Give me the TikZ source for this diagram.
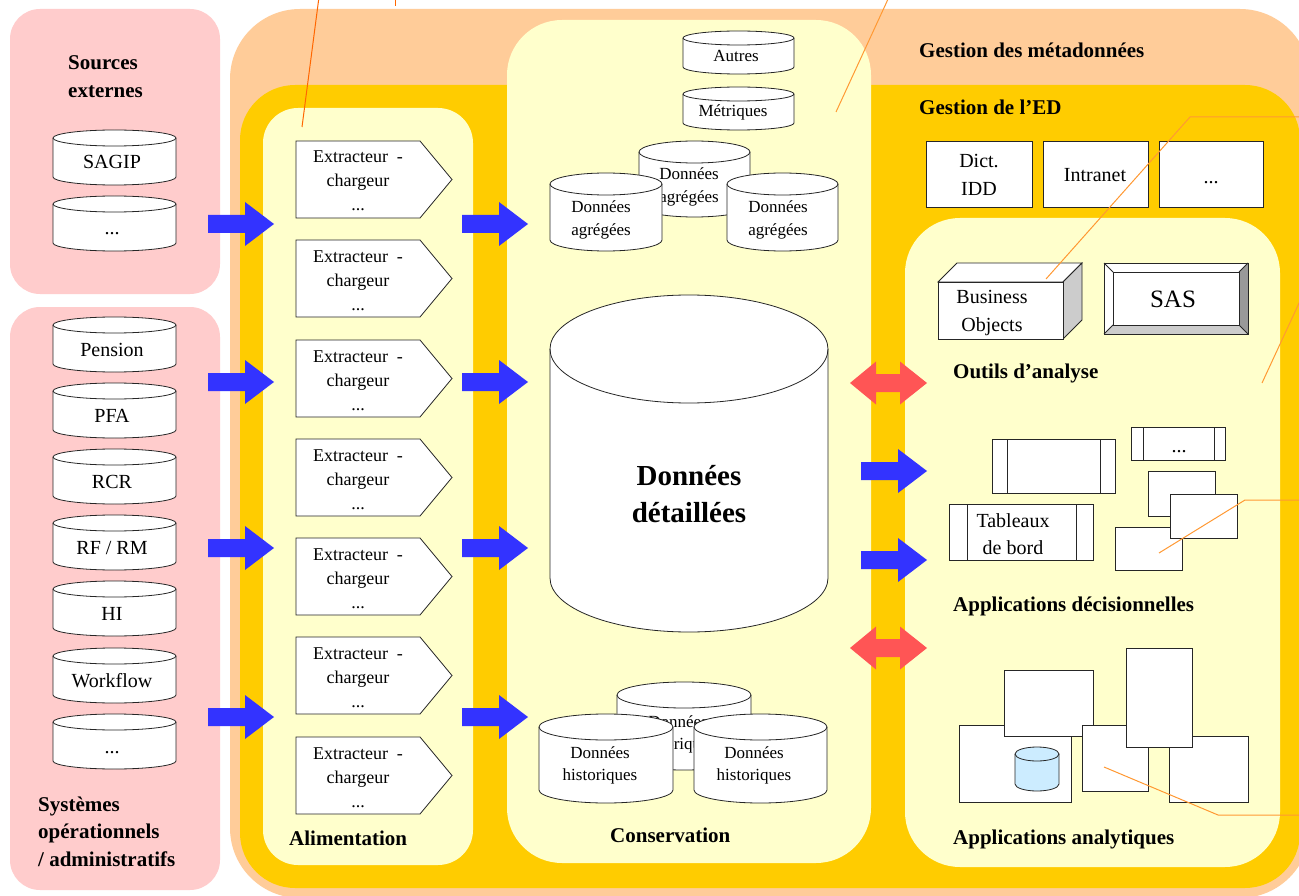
\documentclass[tikz,border=0pt]{standalone}
\usepackage{fontspec}
\setmainfont{Liberation Serif}
\definecolor{pinkbg}{HTML}{FFCCCC}
\definecolor{peach}{HTML}{FFCC99}
\definecolor{gold}{HTML}{FFCC00}
\definecolor{cream}{HTML}{FFFFCC}
\definecolor{arrowblue}{HTML}{3333FF}
\definecolor{arrowred}{HTML}{FF5555}
\definecolor{grayC}{HTML}{CCCCCC}
\definecolor{gray9}{HTML}{999999}
\definecolor{cylblue}{HTML}{CCECFF}
\definecolor{calloutc}{HTML}{FF9933}
\definecolor{calloutd}{HTML}{FF6600}
\newcommand{\threedots}{...}
\tikzset{
  ttl/.style={font=\fontsize{21}{27.5}\selectfont\bfseries, inner sep=0pt, align=left, anchor=base west},
  lbl/.style={font=\fontsize{20}{28}\selectfont, inner sep=0pt, align=center, anchor=base},
  sml/.style={font=\fontsize{17}{22.5}\selectfont, inner sep=0pt, align=center, anchor=base},
  ext/.style={font=\fontsize{18}{24}\selectfont, inner sep=0pt, align=center, anchor=base},
  big/.style={font=\fontsize{29}{37}\selectfont\bfseries, inner sep=0pt, align=center, anchor=base},
  obj/.style={draw=black!85, line width=0.8pt, fill=white},
  objline/.style={draw=black!85, line width=0.8pt},
  bluearrow/.style={fill=arrowblue},
  redarrow/.style={fill=arrowred},
  callout/.style={draw=calloutc, line width=1pt},
  calloutdark/.style={draw=calloutd, line width=1pt},
}
\newcommand{\dbcyl}[6][white]{%
  \pgfmathsetmacro\dbrx{(#4-#2)/2}%
  \pgfmathsetmacro\dbyt{#3+#6}%
  \pgfmathsetmacro\dbyb{#5-#6}%
  \draw[obj, fill=#1] (#2,\dbyt) -- (#2,\dbyb) arc[start angle=180,end angle=0,x radius=\dbrx,y radius=#6]
     -- (#4,\dbyt) arc[start angle=0,end angle=-180,x radius=\dbrx,y radius=#6] -- cycle;
  \draw[objline] (#2,\dbyt) arc[start angle=180,end angle=0,x radius=\dbrx,y radius=#6];
}
\newcommand{\blarrow}[2]{%
  \fill[bluearrow, shift={(#1,#2)}] (0,-9) -- (37,-9) -- (37,-22) -- (66,0) -- (37,22) -- (37,9) -- (0,9) -- cycle;
}
\newcommand{\rdarrow}[2]{%
  \fill[redarrow, shift={(#1,#2)}] (-38.5,0) -- (-12.5,-21.5) -- (-12.5,-9) -- (11.5,-9) -- (11.5,-21.5) -- (38.5,0)
     -- (11.5,21.5) -- (11.5,9) -- (-12.5,9) -- (-12.5,21.5) -- cycle;
}
\newcommand{\sbrect}[6]{%
  \draw[obj] (#1,#2) rectangle (#3,#4);
  \draw[objline] (#5,#2) -- (#5,#4) (#6,#2) -- (#6,#4);
}
\begin{document}
\begin{tikzpicture}[x=1pt,y=-1pt]
\clip (0,0) rectangle (1299,896);
\fill[white] (0,0) rectangle (1299,896);
% regions
\fill[peach, rounded corners=70pt] (230,9) rectangle (1310,898);
\fill[gold, rounded corners=55pt] (240,85) rectangle (1300,888);
\fill[cream, rounded corners=35pt] (263,108) rectangle (473,865);
\fill[cream, rounded corners=55pt] (507,20) rectangle (871,863);
\fill[cream, rounded corners=55pt] (905,218) rectangle (1280,867);
\fill[pinkbg, rounded corners=30pt] (10,9) rectangle (220,294);
\fill[pinkbg, rounded corners=30pt] (10,307) rectangle (220,890);

% titles (base anchor = baseline of last line)
\node[ttl] (srcext) at (68,97.5) {Sources\\externes};
\node[ttl] (sysop) at (38,866) {Systèmes\\opérationnels\\/ administratifs};
\node[ttl] (gmeta) at (919,58) {Gestion des métadonnées};
\node[ttl] (ged) at (919,115) {Gestion de l’ED};
\node[ttl] (alim) at (289,845) {Alimentation};
\node[ttl] (cons) at (610,842) {Conservation};
\node[ttl] (outils) at (953,378) {Outils d’analyse};
\node[ttl] (appdec) at (953,611) {Applications décisionnelles};
\node[ttl] (appana) at (953,844) {Applications analytiques};

% external sources
\dbcyl{53}{130}{176}{185}{8}
\node[lbl] (sagip) at (112,169) {SAGIP};
\dbcyl{53}{196}{176}{251}{8}
\node[lbl] (extetc) at (112,235) {\threedots};

% operational systems
\foreach \t/\lab [count=\i] in {317/Pension,383/PFA,449/RCR,515/{RF / RM},581/HI,648/Workflow,714/\threedots} {
  \dbcyl{53}{\t}{176}{\t+55}{8}
  \node[lbl] (op\i) at (112,\t+39) {\lab};
}

% extractors
\foreach \t [count=\i] in {141,240,340,439,538,637,737} {
  \draw[obj] (296,\t) -- (420,\t) -- (452,\t+38.5) -- (420,\t+77) -- (296,\t+77) -- cycle;
  \node[ext] (ext\i) at (358,\t+70) {Extracteur~~-\\chargeur\\\threedots};
}

% blue arrows
\foreach \y in {224,382,548,717} {
  \blarrow{208}{\y}
  \blarrow{462}{\y}
}
\blarrow{861}{471}
\blarrow{861}{560}
\rdarrow{888.5}{383}
\rdarrow{888.5}{648}

% conservation
\dbcyl{683}{31}{794}{74}{7}
\node[sml] (autres) at (736,62) {Autres};
\dbcyl{683}{87}{794}{130}{7}
\node[sml] (metr) at (733,117) {Métriques};
\dbcyl{639}{141}{750}{217}{11}
\node[sml] (agg2) at (689,202.5) {Données\\agrégées};
\dbcyl{550}{173}{662}{251}{11}
\node[sml] (agg1) at (601,235.5) {Données\\agrégées};
\dbcyl{727}{173}{838}{251}{11}
\node[sml] (agg3) at (778,235.5) {Données\\agrégées};
\dbcyl{550}{295}{828}{632}{54}
\node[big] (detail) at (689,522) {Données\\détaillées};
\dbcyl{617}{682}{751}{770}{13}
\node[sml] (hist2) at (678,749.5) {Données\\historiques};
\dbcyl{539}{714}{673}{803}{13}
\node[sml] (hist1) at (600,780.5) {Données\\historiques};
\dbcyl{694}{714}{827}{803}{13}
\node[sml] (hist3) at (754,780.5) {Données\\historiques};

% management tools
\draw[obj] (926,141) rectangle (1032,207);
\node[lbl] (dict) at (979,196) {Dict.\\IDD};
\draw[obj] (1043,141) rectangle (1148,207);
\node[lbl] (intranet) at (1095,182) {Intranet};
\draw[obj] (1159,141) rectangle (1263,207);
\node[lbl] (mgmtetc) at (1211,184) {\threedots};

% Business Objects
\draw[obj] (938,282) -- (957,263) -- (1082,263) -- (1063,282) -- cycle;
\draw[obj, fill=grayC] (1063,282) -- (1082,263) -- (1082,320) -- (1063,339) -- cycle;
\draw[obj] (938,282) rectangle (1063,339);
\node[lbl] (bo) at (992,331) {Business\\Objects};

% SAS
\fill[white] (1104,263) rectangle (1248,334);
\fill[gray9] (1248,263) -- (1248,334) -- (1239,325) -- (1239,272) -- cycle;
\fill[grayC] (1104,334) -- (1248,334) -- (1239,325) -- (1113,325) -- cycle;
\draw[objline] (1104,263) rectangle (1248,334);
\draw[objline] (1113,272) rectangle (1239,325);
\draw[objline] (1104,263) -- (1113,272) (1248,263) -- (1239,272) (1248,334) -- (1239,325) (1104,334) -- (1113,325);
\node[font=\fontsize{25}{30}\selectfont, inner sep=0pt, anchor=base] (sas) at (1173,308) {SAS};

% decision applications
\sbrect{992}{439}{1115}{493}{1007}{1100}
\sbrect{1131}{427}{1225}{460}{1143}{1214}
\node[lbl] (decetc) at (1179,452) {\threedots};
\sbrect{949}{504}{1093}{560}{967}{1076}
\node[lbl, font=\fontsize{20}{27}\selectfont] (tab) at (1013,554) {Tableaux\\de bord};
\draw[obj] (1148,471) rectangle (1215,516);
\draw[obj] (1115,527) rectangle (1182,570);
\draw[obj] (1170,494) rectangle (1237,538);

% analytic applications
\draw[obj] (959,725) rectangle (1071,802);
\draw[obj] (1004,670) rectangle (1093,736);
\draw[obj] (1082,725) rectangle (1148,791);
\draw[obj] (1169,736) rectangle (1248,802);
\draw[obj] (1126,648) rectangle (1192,747);
\dbcyl[cylblue]{1015}{747}{1059}{791}{7}

% callout lines
\coordinate (k1a) at (302,127); \coordinate (k1b) at (319,-3);
\coordinate (k2a) at (395,6); \coordinate (k2b) at (395,-3);
\coordinate (k3a) at (836,112); \coordinate (k3b) at (889,-3);
\coordinate (k4a) at (1046,279); \coordinate (k4b) at (1190,117); \coordinate (k4c) at (1305,117);
\coordinate (k5a) at (1262,383); \coordinate (k5b) at (1300,301);
\coordinate (k6a) at (1159,553); \coordinate (k6b) at (1245,500); \coordinate (k6c) at (1305,500);
\coordinate (k7a) at (1104,767); \coordinate (k7b) at (1218,815); \coordinate (k7c) at (1305,815);
\draw[calloutdark] (k1a) -- (k1b);
\draw[calloutdark] (k2a) -- (k2b);
\draw[callout] (k3a) -- (k3b);
\draw[callout] (k4a) -- (k4b) -- (k4c);
\draw[callout] (k5a) -- (k5b);
\draw[callout] (k6a) -- (k6b) -- (k6c);
\draw[callout] (k7a) -- (k7b) -- (k7c);
\end{tikzpicture}
\end{document}
